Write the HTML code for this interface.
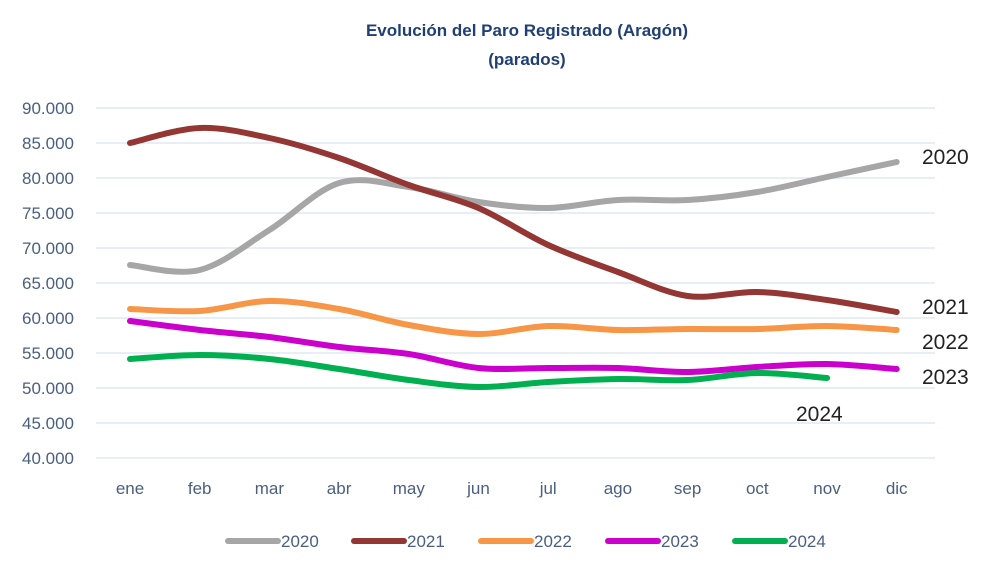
<!DOCTYPE html>
<html><head><meta charset="utf-8"><style>
body{margin:0;background:#fff;width:1000px;height:567px;overflow:hidden}
svg text{font-family:"Liberation Sans Narrow","Liberation Sans",sans-serif}
</style></head><body>
<svg id="s" width="1000" height="567" xmlns="http://www.w3.org/2000/svg">
<text x="527" y="36" text-anchor="middle" font-size="17" font-weight="bold" fill="#1f3f75">Evolución del Paro Registrado (Aragón)</text>
<text x="527" y="65" text-anchor="middle" font-size="17" font-weight="bold" fill="#1f3f75">(parados)</text>
<g id="grid" stroke="#dfe8f3" stroke-width="1.5"></g>
<g id="yl" font-size="17" fill="#4a5f80" text-anchor="end"></g>
<g id="xl" font-size="17" fill="#4a5f80" text-anchor="middle"></g>
<g id="lines" fill="none" stroke-width="6" stroke-linecap="round" stroke-linejoin="round"></g>
<g font-size="21" fill="#222">
<text x="922" y="164">2020</text>
<text x="922" y="314">2021</text>
<text x="922" y="349">2022</text>
<text x="922" y="384">2023</text>
<text x="796" y="421">2024</text>
</g>
<g id="leg" font-size="17" fill="#4a5f80"></g>
</svg>
<script>
const NS="http://www.w3.org/2000/svg";
function el(p,t,a,txt){const e=document.createElementNS(NS,t);for(const k in a)e.setAttribute(k,a[k]);if(txt!=null)e.textContent=txt;document.getElementById(p).appendChild(e);}
for(let i=0;i<=10;i++){const y=458-i*35;el("grid","line",{x1:96,x2:935,y1:y,y2:y});el("yl","text",{x:74,y:y+6},((40+i*5)+".000"));}
const m=["ene","feb","mar","abr","may","jun","jul","ago","sep","oct","nov","dic"];
const X=i=>130+i*69.7;
m.forEach((t,i)=>el("xl","text",{x:X(i),y:494},t));
const S=[
["#a6a6a6",[265,270,230,183,187,202,208,200,200,192,177,162]],
["#943634",[143,128,138,158,185,208,245,272,296,292,300,312]],
["#f79646",[309,311,301,309,325,334,326,330,329,329,326,330]],
["#cc00cc",[321,330,337,347,354,368,368,368,372,367,364,369]],
["#00b050",[359,355,359,369,380,387,382,379,380,373,378]]];
S.forEach(([c,v])=>{const p=v.map((y,i)=>[X(i),y]);let d="M"+p[0];
for(let i=0;i<p.length-1;i++){const a=p[i-1]||p[i],b=p[i],e=p[i+1],f=p[i+2]||e;
d+=" C"+(b[0]+(e[0]-a[0])/6)+","+(b[1]+(e[1]-a[1])/6)+" "+(e[0]-(f[0]-b[0])/6)+","+(e[1]-(f[1]-b[1])/6)+" "+e;}
el("lines","path",{d,stroke:c});});
const lx=[228,354,481,608,735];
S.forEach(([c],i)=>{el("leg","line",{x1:lx[i],x2:lx[i]+50,y1:541,y2:541,stroke:c,"stroke-width":6,"stroke-linecap":"round"});el("leg","text",{x:lx[i]+53,y:547},String(2020+i));});
</script>
</body></html>
